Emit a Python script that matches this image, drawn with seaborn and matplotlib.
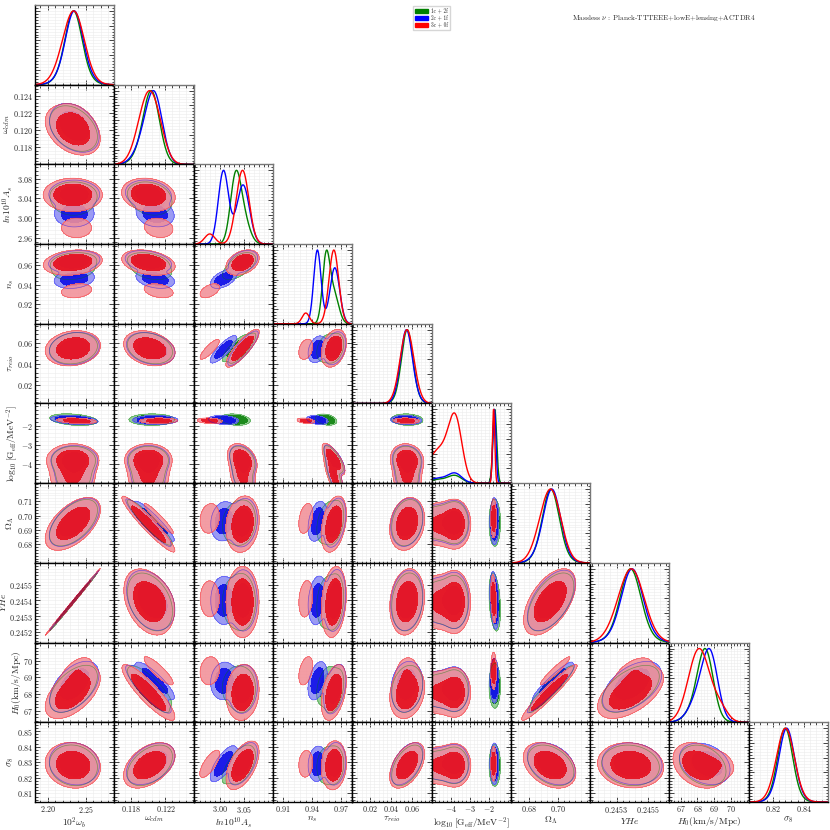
import numpy as np
import pandas as pd
import matplotlib.pyplot as plt
import seaborn as sns
from matplotlib.patches import Patch
from matplotlib.ticker import FixedLocator, AutoMinorLocator

# --- parameters and axes ---
param_labels = [r"$10^2\omega_b$", r"$\omega_{cdm}$", r"$ln10^{10}A_s$", r"$n_s$", r"$\tau_{reio}$",
                r"$\log_{10}[\mathrm{G_{eff}}/\mathrm{MeV}^{-2}]$", r"$\Omega_\Lambda$", r"$YHe$",
                r"$H_0(\mathrm{km/s/Mpc})$", r"$\sigma_8$"]
axis_lo = [2.183, 0.1160, 2.947, 0.900, 0.003, -5.0, 0.667, 0.24513, 66.3, 0.8045]
axis_hi = [2.288, 0.1253, 3.109, 0.982, 0.078, -0.85, 0.7225, 0.24564, 71.1, 0.8556]
xtick_labels = [["2.20", "2.25"], ["0.118", "0.122"], ["3.00", "3.05"], ["0.91", "0.94", "0.97"],
                ["0.02", "0.04", "0.06"], ["-4", "-3", "-2"], ["0.68", "0.70"], ["0.2453", "0.2455"],
                ["67", "68", "69", "70"], ["0.82", "0.84"]]
ytick_labels = [[], ["0.118", "0.120", "0.122", "0.124"], ["2.96", "3.00", "3.04", "3.08"],
                ["0.92", "0.94", "0.96"], ["0.02", "0.04", "0.06"], ["-4", "-3", "-2"],
                ["0.68", "0.69", "0.70", "0.71"], ["0.2452", "0.2453", "0.2454", "0.2455"],
                ["67", "68", "69", "70"], ["0.81", "0.82", "0.83", "0.84", "0.85"]]

# --- runs ---
datasets = ["1c + 2f", "2c + 1f", "3c + 0f"]
run_colors = ["#008000", "#0000ff", "#ff0000"]
fill_dark = ["#007a00", "#0000e6", "#e6000f"]
fill_light = ["#7cc27c", "#8282f2", "#f29098"]
light_alpha = [0.8, 0.8, 0.88]

# weight of the moderately interacting (MI) mode, rest is the strongly interacting (SI) mode
weight_mi = [0.38, 0.50, 0.90]
# MI mode in log10 G_eff: a core plus a tail towards the prior edge
mi_core_share = 0.5
mi_logg_core = [-3.75, 0.35]
mi_logg_tail = [-4.6, 0.6]

# means, order: wb, wcdm, lnAs, ns, tau, logG, OmegaL, YHe, H0, sigma8
mi_mean_1c2f = [2.234, 0.1200, 3.047, 0.963, 0.055, -3.7, 0.695, 0.24539, 68.2, 0.828]
mi_mean_2c1f = [2.235, 0.1200, 3.048, 0.964, 0.055, -3.7, 0.695, 0.24540, 68.3, 0.829]
mi_mean_3c0f = [2.233, 0.1200, 3.047, 0.963, 0.055, -3.7, 0.694, 0.24539, 68.1, 0.828]
si_mean_1c2f = [2.234, 0.1204, 3.032, 0.955, 0.055, -1.69, 0.695, 0.24539, 68.5, 0.828]
si_mean_2c1f = [2.235, 0.1208, 3.008, 0.946, 0.054, -1.71, 0.696, 0.24540, 68.8, 0.829]
si_mean_3c0f = [2.238, 0.1212, 2.980, 0.934, 0.054, -1.75, 0.698, 0.24541, 69.4, 0.829]

mi_sigma = [0.015, 0.0012, 0.013, 0.005, 0.0068, 0.35, 0.0075, 0.000088, 0.65, 0.006]
si_sigma = [0.0105, 0.0009, 0.0105, 0.0038, 0.005, 0.08, 0.0055, 0.000062, 0.45, 0.0045]
si_logg_sigma = [0.10, 0.08, 0.06]

# pair correlations (YHe follows wb through BBN)
corr_mi = {(0, 1): -0.35, (0, 2): 0.0, (0, 3): 0.2, (0, 4): 0.15, (0, 5): 0.0, (0, 6): 0.55,
           (0, 8): 0.55, (0, 9): -0.1, (1, 2): -0.15, (1, 3): -0.3, (1, 4): -0.25, (1, 5): 0.0,
           (1, 6): -0.95, (1, 8): -0.88, (1, 9): 0.45, (2, 3): 0.35, (2, 4): 0.85, (2, 5): -0.35,
           (2, 6): 0.15, (2, 8): 0.1, (2, 9): 0.55, (3, 4): 0.3, (3, 5): -0.75, (3, 6): 0.35,
           (3, 8): 0.4, (3, 9): 0.1, (4, 5): -0.1, (4, 6): 0.2, (4, 8): 0.2, (4, 9): 0.5,
           (5, 6): 0.0, (5, 8): 0.0, (5, 9): 0.0, (6, 8): 0.96, (6, 9): -0.35, (8, 9): -0.3}
corr_si = dict(corr_mi)
corr_si.update({(0, 5): -0.3, (2, 5): -0.2, (3, 5): -0.3, (2, 3): 0.5, (2, 9): 0.75})
yhe_wb_corr = 0.999


def build_corr(pairs):
    idx = [0, 1, 2, 3, 4, 5, 6, 8, 9]
    m = np.eye(10)
    for (a, b), r in pairs.items():
        m[a, b] = m[b, a] = r
    sub = m[np.ix_(idx, idx)]
    w, v = np.linalg.eigh(sub)
    sub = v @ np.diag(np.clip(w, 1e-3, None)) @ v.T
    d = np.sqrt(np.diag(sub))
    sub = sub / np.outer(d, d)
    m[np.ix_(idx, idx)] = sub
    m[7, :] = yhe_wb_corr * m[0, :]
    m[:, 7] = m[7, :]
    m[7, 7] = 1.0
    m[7, 0] = m[0, 7] = yhe_wb_corr
    return m


C_MI = build_corr(corr_mi)
C_SI = build_corr(corr_si)


def components(k):
    mi_mean = [mi_mean_1c2f, mi_mean_2c1f, mi_mean_3c0f][k]
    si_mean = [si_mean_1c2f, si_mean_2c1f, si_mean_3c0f][k]
    out = []
    for share, (mu_g, sd_g) in [(mi_core_share, mi_logg_core), (1 - mi_core_share, mi_logg_tail)]:
        m = np.array(mi_mean, float); s = np.array(mi_sigma, float)
        m[5], s[5] = mu_g, sd_g
        out.append((weight_mi[k] * share, m, s, C_MI))
    m = np.array(si_mean, float); s = np.array(si_sigma, float)
    s[5] = si_logg_sigma[k]
    out.append((1 - weight_mi[k], m, s, C_SI))
    return out


def density_1d(k, i, x):
    z = np.zeros_like(x)
    for w, m, s, c in components(k):
        z += w / s[i] * np.exp(-0.5 * ((x - m[i]) / s[i]) ** 2)
    return z / z.max()


def density_2d(k, i, j, X, Y):
    z = np.zeros_like(X)
    for w, m, s, c in components(k):
        r = c[i, j]
        dx = (X - m[j]) / s[j]
        dy = (Y - m[i]) / s[i]
        q = (dx ** 2 - 2 * r * dx * dy + dy ** 2) / (1 - r ** 2)
        z += w / (s[i] * s[j] * np.sqrt(1 - r ** 2)) * np.exp(-0.5 * q)
    return z


def hpd_levels(z, probs=(0.954, 0.683)):
    flat = np.sort(z.ravel())[::-1]
    cum = np.cumsum(flat) / flat.sum()
    return [flat[np.searchsorted(cum, p)] for p in probs]


# --- style ---
sns.set_theme(style="ticks")
plt.rcParams['font.family'] = 'serif'
plt.rcParams['font.serif'] = ['cmr10', 'DejaVu Serif']
plt.rcParams['mathtext.fontset'] = 'cm'
plt.rcParams['axes.unicode_minus'] = False
plt.rcParams['axes.formatter.use_mathtext'] = True

n = len(param_labels)
fig, axes = plt.subplots(n, n, figsize=(8.3, 8.3), dpi=100)
plt.subplots_adjust(left=35 / 830, right=828 / 830, bottom=1 - 802 / 830, top=1 - 5 / 830,
                    wspace=0, hspace=0)


def style_axis(ax, i, j):
    ax.set_xlim(axis_lo[j], axis_hi[j])
    ax.xaxis.set_major_locator(FixedLocator([float(t) for t in xtick_labels[j]]))
    ax.xaxis.set_minor_locator(AutoMinorLocator(5))
    if i != j:
        ax.set_ylim(axis_lo[i], axis_hi[i])
        ax.yaxis.set_major_locator(FixedLocator([float(t) for t in ytick_labels[i]]))
    ax.yaxis.set_minor_locator(AutoMinorLocator(5))
    ax.tick_params(which='both', direction='in', top=True, right=True, width=0.6, labelsize=5.8)
    ax.tick_params(axis='x', pad=1.5)
    ax.tick_params(axis='y', pad=1.5)
    ax.tick_params(which='major', length=3.5)
    ax.tick_params(which='minor', length=1.8)
    ax.grid(True, which='both', color='#ececec', lw=0.4)
    ax.set_axisbelow(True)
    for sp in ax.spines.values():
        sp.set_linewidth(1.0)
        sp.set_color('black')
    if i == j:
        ax.spines['top'].set_color('#777777')
        ax.spines['right'].set_color('#777777')
    if i == n - 1:
        ax.set_xticklabels(["$" + t + "$" for t in xtick_labels[j]])
        ax.set_xlabel(param_labels[j], fontsize=6.8, labelpad=0.5)
    else:
        ax.set_xticklabels([])
    if j == 0 and i > 0:
        ax.set_yticklabels(["$" + t + "$" for t in ytick_labels[i]])
        ax.set_ylabel(param_labels[i], fontsize=6.8, labelpad=0.3)
    else:
        ax.set_yticklabels([])


for i in range(n):
    for j in range(n):
        ax = axes[i, j]
        if j > i:
            ax.set_visible(False)
            continue
        if i == j:
            x = np.linspace(axis_lo[i], axis_hi[i], 400)
            for k in range(3):
                df = pd.DataFrame({"x": x, "p": density_1d(k, i, x)})
                sns.lineplot(data=df, x="x", y="p", ax=ax, color=run_colors[k], lw=1.0)
            ax.set_ylim(0, 1.08)
            ax.set_yticks([0.2, 0.4, 0.6, 0.8, 1.0])
            ax.set_xlabel("")
            ax.set_ylabel("")
        else:
            xs = np.linspace(axis_lo[j], axis_hi[j], 260)
            ys = np.linspace(axis_lo[i], axis_hi[i], 260)
            X, Y = np.meshgrid(xs, ys)
            outlines = []
            for k in range(3):
                z = density_2d(k, i, j, X, Y)
                t95, t68 = hpd_levels(z)
                top = z.max() * 1.01
                ax.contourf(X, Y, z, levels=[t95, top], colors=[fill_light[k]], alpha=light_alpha[k])
                ax.contourf(X, Y, z, levels=[t68, top], colors=[fill_dark[k]], alpha=0.82)
                outlines.append((z, t95))
            for k, (z, t95) in enumerate(outlines):
                ax.contour(X, Y, z, levels=[t95], colors=[run_colors[k]], linewidths=0.5, alpha=0.45)
        style_axis(ax, i, j)

fig.text(0.80, 0.978, r"Massless $\nu$ : Planck-TTTEEE+lowE+lensing+ACTDR4", fontsize=5.3,
         ha='center', va='center')
handles = [Patch(facecolor=c, edgecolor=c) for c in run_colors]
fig.legend(handles, datasets, loc='upper left', bbox_to_anchor=(0.495, 0.996), fontsize=3.8,
           frameon=True, handlelength=2.4, handleheight=0.9, borderpad=0.35, labelspacing=0.25,
           handletextpad=0.6, fancybox=False, edgecolor='#cccccc')

fig.savefig("out.png", dpi=100)
